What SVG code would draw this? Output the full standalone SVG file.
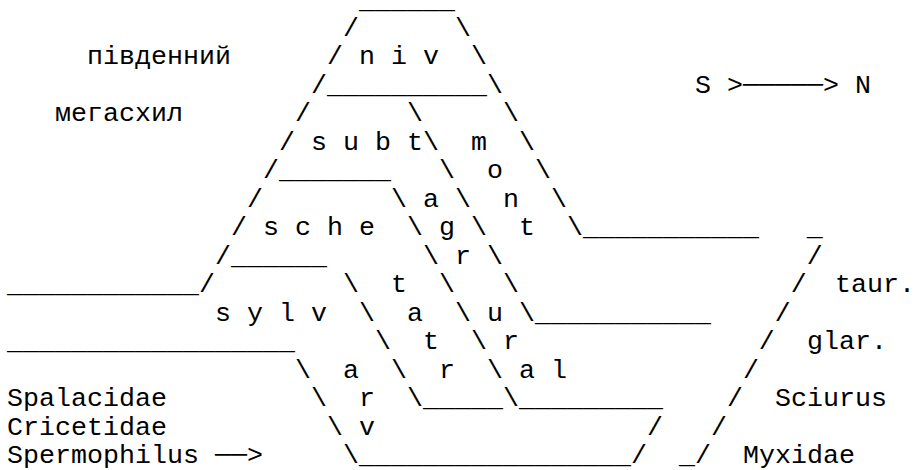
<svg xmlns="http://www.w3.org/2000/svg" width="915" height="470" viewBox="0 0 915 470">
<style>
.t { font-family: "Liberation Mono", "Courier New", "DejaVu Sans Mono", monospace; font-size: 26.667px; fill: #000; white-space: pre; }
</style>
<rect width="915" height="470" fill="#fff"/>
<g id="art" class="t">
<text xml:space="preserve" x="359" y="8">______</text>
<text xml:space="preserve" x="343" y="35.5">/      \</text>
<text xml:space="preserve" x="327" y="64">/ n i v  \</text>
<text xml:space="preserve" x="311" y="92.5">/__________\</text>
<text xml:space="preserve" x="295" y="121">/      \     \</text>
<text xml:space="preserve" x="279" y="149.5">/ s u b t\  m  \</text>
<text xml:space="preserve" x="263" y="178">/_______   \  o  \</text>
<text xml:space="preserve" x="247" y="206.5">/        \ a \  n  \</text>
<text xml:space="preserve" x="231" y="235">/ s c h e  \ g \  t  \___________   _</text>
<text xml:space="preserve" x="215" y="263.5">/______      \ r \                   /</text>
<text xml:space="preserve" x="7" y="292">____________/        \  t  \   \                 /</text>
<text xml:space="preserve" x="215" y="320.5">s y l v  \  a  \ u \___________    /</text>
<text xml:space="preserve" x="7" y="349">__________________     \  t  \ r               /</text>
<text xml:space="preserve" x="295" y="377.5">\  a  \  r  \ a l           /</text>
<text xml:space="preserve" x="311" y="406">\  r  \_____\_________    /</text>
<text xml:space="preserve" x="327" y="434.5">\ v                 /   /</text>
<text xml:space="preserve" x="343" y="463">\_________________/  _/</text>
</g>
<g id="labels" class="t">
<text id="pivdennyi" xml:space="preserve" x="87" y="64">південний</text>
<text id="megaskhyl" xml:space="preserve" x="55" y="121">мегасхил</text>
<text id="sn" xml:space="preserve" x="695" y="92.5">S >─────> N</text>
<text id="taur" xml:space="preserve" x="835" y="292">taur.</text>
<text id="glar" xml:space="preserve" x="807" y="349">glar.</text>
<text id="spalacidae" xml:space="preserve" x="7" y="406">Spalacidae</text>
<text id="sciurus" xml:space="preserve" x="775" y="406">Sciurus</text>
<text id="cricetidae" xml:space="preserve" x="7" y="434.5">Cricetidae</text>
<text id="spermophilus" xml:space="preserve" x="7" y="463">Spermophilus ──></text>
<text id="myxidae" xml:space="preserve" x="743" y="463">Myxidae</text>
</g>
</svg>
